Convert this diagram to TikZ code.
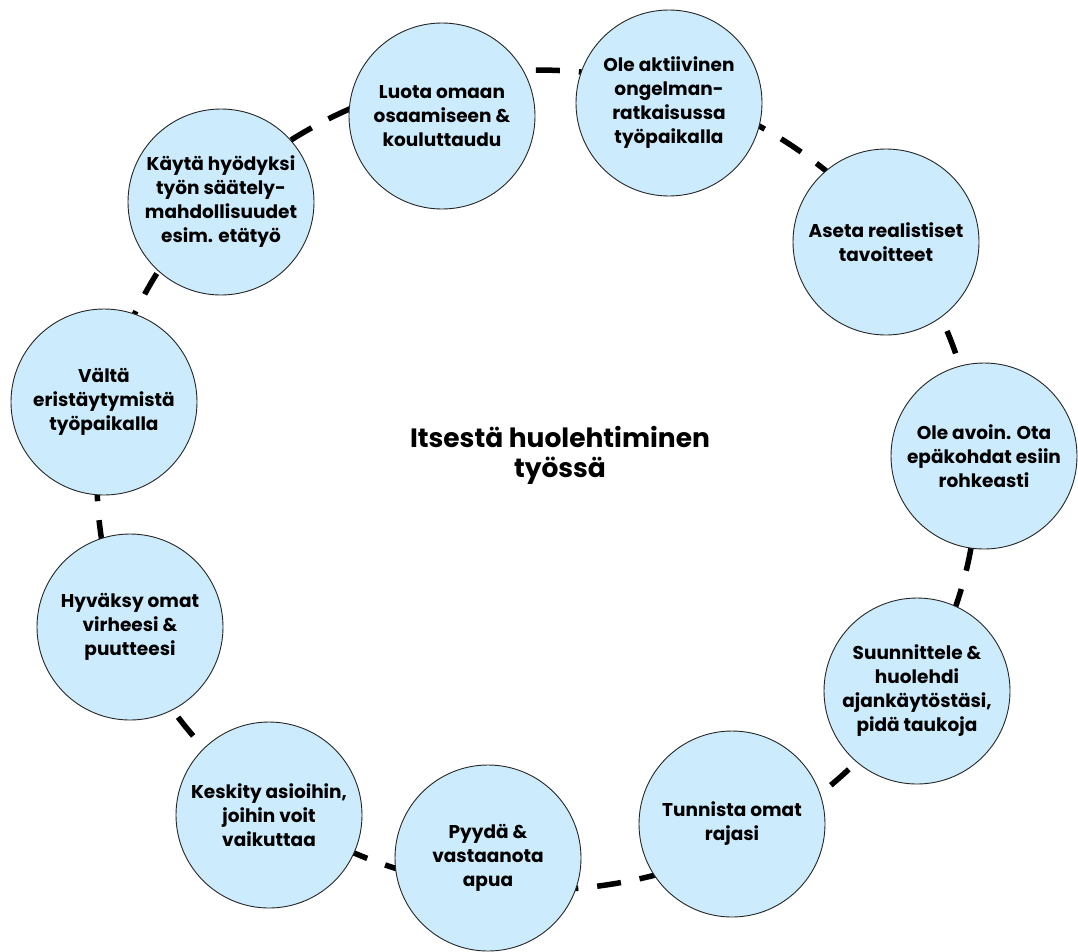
\documentclass[tikz,border=0pt]{standalone}
\usepackage{fontspec}
\setmainfont{Poppins}[BoldFont={* Bold}]
\definecolor{bubfill}{RGB}{204,235,252}
\begin{document}
\begin{tikzpicture}[x=1pt,y=-1pt,
  bub/.style={circle, draw=black!85, line width=0.9pt, fill=bubfill,
    minimum size=186pt, inner sep=0pt, align=center,
    font=\bfseries\fontsize{18.5}{24}\selectfont},
  ring/.style={line width=5.5pt, dash pattern=on 24pt off 19pt}]
\useasboundingbox (0,0) rectangle (1078,951);
\coordinate (mid) at (537,480);
\draw[ring] (mid) ellipse [x radius=440pt, y radius=410pt];
\node[bub] (n1) at (442,116) {Luota omaan\\osaamiseen \&\\kouluttaudu};
\node[bub] (n2) at (669,103) {Ole aktiivinen\\ongelman-\\ratkaisussa\\työpaikalla};
\node[bub] (n3) at (886,242) {Aseta realistiset\\tavoitteet};
\node[bub] (n4) at (984,456) {Ole avoin. Ota\\epäkohdat esiin\\rohkeasti};
\node[bub] (n5) at (917,691) {Suunnittele \&\\huolehdi\\ajankäytöstäsi,\\pidä taukoja};
\node[bub] (n6) at (732,824) {Tunnista omat\\rajasi};
\node[bub] (n7) at (488,858) {Pyydä \&\\vastaanota\\apua};
\node[bub] (n8) at (269,815) {Keskity asioihin,\\joihin voit\\vaikuttaa};
\node[bub] (n9) at (130,627) {Hyväksy omat\\virheesi \&\\puutteesi};
\node[bub] (n10) at (104,402) {Vältä\\eristäytymistä\\työpaikalla};
\node[bub] (n11) at (221,202) {Käytä hyödyksi\\työn säätely-\\mahdollisuudet\\esim. etätyö};
\node[align=center, font=\bfseries\fontsize{26.5}{30}\selectfont] (title) at (560,455) {Itsestä huolehtiminen\\työssä};
\end{tikzpicture}
\end{document}
